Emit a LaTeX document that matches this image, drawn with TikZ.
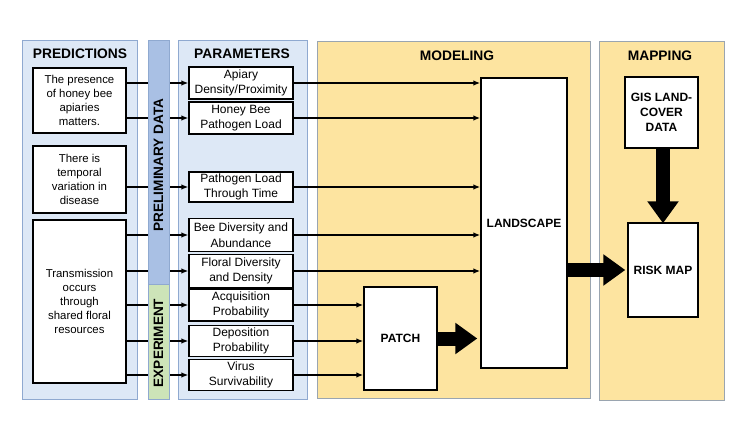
\documentclass[tikz,border=0pt]{standalone}
\usepackage{fontspec}
\setmainfont{Liberation Sans}
\usetikzlibrary{arrows.meta}
\definecolor{panelblue}{HTML}{DDE8F6}
\definecolor{edgeblue}{HTML}{8FA9D0}
\definecolor{stripblue}{HTML}{A9C0E4}
\definecolor{stripgreen}{HTML}{CDE4B8}
\definecolor{panelyellow}{HTML}{FDE4A0}
\definecolor{edgegray}{HTML}{9AA5B0}
\tikzset{
  bluepanel/.style={draw=edgeblue,fill=panelblue,line width=0.8pt},
  yellowpanel/.style={draw=edgegray,fill=panelyellow,line width=0.8pt},
  paneltitle/.style={font=\bfseries\fontsize{13.8}{16}\selectfont},
  predbox/.style={draw,fill=white,line width=1.6pt,inner sep=0pt,align=center,
    minimum width=93pt,font=\fontsize{11.4}{14}\selectfont},
  parbox/.style={draw,fill=white,line width=1.2pt,inner sep=0pt,align=center,
    minimum width=104pt,font=\fontsize{12}{15.5}\selectfont},
  modbox/.style={draw,fill=white,line width=1.4pt,inner sep=0pt,align=center,
    font=\bfseries\fontsize{12}{15}\selectfont},
  striplabel/.style={rotate=90,font=\bfseries\fontsize{13.6}{16}\selectfont},
  bigarrow/.style={line width=14pt,-{Triangle[length=22pt,width=30pt]}},
}
\begin{document}
\begin{tikzpicture}[x=1pt,y=-1pt,>={Latex[length=7pt,width=5.5pt]},line width=1.5pt]
  \useasboundingbox (0,0) rectangle (750,422);
  % columns
  \draw[bluepanel](22,40) rectangle (137,399);
  \draw[bluepanel](178,40) rectangle (307,399);
  \draw[yellowpanel](317,41) rectangle (590,398);
  \draw[yellowpanel](599,41) rectangle (724,400);
  \node[paneltitle] (tpred) at(80,54) {PREDICTIONS};
  \node[paneltitle] (tpar) at(242,54) {PARAMETERS};
  \node[paneltitle] (tmod) at(457,56) {MODELING};
  \node[paneltitle] (tmap) at(660,56) {MAPPING};
  % predictions
  \node[predbox,minimum height=65pt] (p1) at(79.5,100.5) {The presence\\of honey bee\\apiaries\\matters.};
  \node[predbox,minimum height=67pt] (p2) at(79.5,179.5) {There is\\temporal\\variation in\\disease};
  \node[predbox,minimum height=163pt] (p3) at(79.5,301.5) {Transmission\\occurs\\through\\shared floral\\resources};
  % parameters
  \node[parbox,minimum height=32pt] (a1) at(241,83) {Apiary\\Density/Proximity};
  \node[parbox,minimum height=32pt] (a2) at(241,118) {Honey Bee\\Pathogen Load};
  \node[parbox,minimum height=30pt] (a3) at(241,187) {Pathogen Load\\Through Time};
  \node[parbox,minimum height=33pt] (a4) at(241,235) {Bee Diversity and\\Abundance};
  \node[parbox,minimum height=33pt] (a5) at(241,271) {Floral Diversity\\and Density};
  \node[parbox,minimum height=32pt] (a6) at(241,305) {Acquisition\\Probability};
  \node[parbox,minimum height=31pt] (a7) at(241,341) {Deposition\\Probability};
  \node[parbox,minimum height=31pt] (a8) at(241,375) {Virus\\Survivability};
  % modeling and mapping
  \node[modbox,minimum width=86pt,minimum height=290pt] (land) at(524,223) {LANDSCAPE};
  \node[modbox,minimum width=73pt,minimum height=103pt] (patch) at(400.5,338.5) {PATCH};
  \node[modbox,minimum width=73pt,minimum height=71pt] (gis) at(661.5,112.5) {GIS LAND-\\COVER\\DATA};
  \node[modbox,minimum width=70pt,minimum height=94pt] (risk) at(663,270) {RISK MAP};
  % predictions to parameters
  \draw[->](p1.east |- a1) -- (a1.west);
  \draw[->](p1.east |- a2) -- (a2.west);
  \draw[->](p2.east |- a3) -- (a3.west);
  \foreach \k in {a4,a5,a6,a7,a8}
    \draw[->](p3.east |- \k) -- (\k.west);
  % strip over the lines
  \draw[draw=edgeblue,fill=stripblue,line width=0.8pt](148,40) rectangle (169,284);
  \draw[draw=edgeblue,fill=stripgreen,line width=0.8pt](148,284) rectangle (169,399);
  \node[striplabel] (prelim) at(158.5,165) {PRELIMINARY DATA};
  \node[striplabel] (expt) at(158.5,343) {EXPERIMENT};
  % parameters to modeling
  \foreach \k in {a1,a2,a3,a4,a5}
    \draw[->](\k.east) -- (\k.east -| land.west);
  \foreach \k in {a6,a7,a8}
    \draw[->](\k.east) -- (\k.east -| patch.west);
  \draw[bigarrow](patch.east) -- ([xshift=-3pt]patch.east -| land.west);
  \draw[bigarrow](risk.west -| land.east) -- ([xshift=-2pt]risk.west);
  \draw[bigarrow](gis.south -| risk.north) -- ([yshift=-1pt]risk.north);
\end{tikzpicture}
\end{document}
